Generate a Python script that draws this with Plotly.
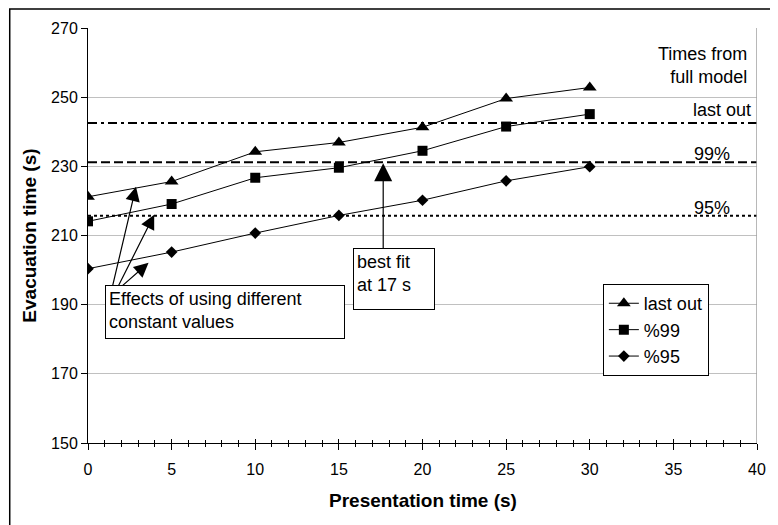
import plotly.graph_objects as go

# ---- data ----
presentation_time = [0, 5, 10, 15, 20, 25, 30]
last_out = [221.2, 225.6, 234.2, 236.9, 241.3, 249.6, 252.8]
pct99 = [214.1, 219.1, 226.7, 229.6, 234.5, 241.5, 245.1]
pct95 = [200.4, 205.2, 210.7, 215.8, 220.2, 225.8, 229.9]

series_names = ["last out", "%99", "%95"]
series_symbols = ["triangle-up", "square", "diamond"]
series_sizes = [12, 10, 9]

full_model_names = ["last out", "99%", "95%"]
full_model_values = [242.5, 231.2, 215.7]
full_model_dash = ["9px,4px,3px,4px", "9px,4px", "3px,3px"]

x_range = [0, 40]
y_range = [150, 270]
x_ticks = [0, 5, 10, 15, 20, 25, 30, 35, 40]
y_ticks = [150, 170, 190, 210, 230, 250, 270]

FONT = "Liberation Sans, Arial, sans-serif"

fig = go.Figure()

# reference lines from the full model
for name, val, dash in zip(full_model_names, full_model_values, full_model_dash):
    fig.add_trace(go.Scatter(
        x=x_range, y=[val, val], mode="lines",
        line=dict(color="black", width=2, dash=dash),
        showlegend=False, hoverinfo="skip"))

for name, ys, sym, sz in zip(series_names, [last_out, pct99, pct95], series_symbols, series_sizes):
    fig.add_trace(go.Scatter(
        x=presentation_time, y=ys, mode="lines+markers", name=name,
        line=dict(color="black", width=1),
        marker=dict(symbol=sym, size=sz, color="black")))

# helper trace for overlay axis (cross ticks)
fig.add_trace(go.Scatter(x=[x_range[0]], y=[y_range[0]], xaxis="x2", mode="markers",
                         marker=dict(opacity=0), showlegend=False, hoverinfo="skip"))

# plot-area right border (grey)
fig.add_shape(type="line", xref="x", yref="y", x0=x_range[1], x1=x_range[1],
              y0=y_range[0], y1=y_range[1], line=dict(color="#a0a0a0", width=1.5))
# outer chart border
fig.add_shape(type="rect", xref="paper", yref="paper", x0=-0.1170, x1=1.06,
              y0=-0.3, y1=1.0458, line=dict(color="black", width=1.5))

annotations = []
# labels for full-model lines
annotations.append(dict(x=1.0, y=1.0, xref="paper", yref="paper", xanchor="right", yanchor="top",
                        text="Times from<br>full model", showarrow=False, align="right",
                        xshift=-8, yshift=-14, font=dict(size=18, color="black", family=FONT)))
annotations.append(dict(x=40, y=full_model_values[0], xref="x", yref="y", xanchor="right", yanchor="bottom",
                        text="last out", showarrow=False, xshift=-4, yshift=1,
                        font=dict(size=18, color="black", family=FONT)))
annotations.append(dict(x=38.5, y=full_model_values[1], xref="x", yref="y", xanchor="right", yanchor="middle",
                        text="99%", showarrow=False, yshift=8,
                        font=dict(size=18, color="black", family=FONT)))
annotations.append(dict(x=38.5, y=full_model_values[2], xref="x", yref="y", xanchor="right", yanchor="middle",
                        text="95%", showarrow=False, yshift=8,
                        font=dict(size=18, color="black", family=FONT)))

# arrows from the "Effects" box
arrow_tips = [(2.87, 224.1), (3.96, 216.0), (3.62, 202.1)]
arrow_tails = [(1.46, 195.2), (1.79, 195.2), (1.99, 195.2)]
for (tx, ty), (sx, sy) in zip(arrow_tips, arrow_tails):
    annotations.append(dict(x=tx, y=ty, ax=sx, ay=sy, xref="x", yref="y", axref="x", ayref="y",
                            text="", showarrow=True, arrowhead=2, arrowsize=2.4, arrowwidth=1.2,
                            arrowcolor="black"))
# best fit arrow
annotations.append(dict(x=17.65, y=230.9, ax=17.65, ay=203.3, xref="x", yref="y", axref="x", ayref="y",
                        text="", showarrow=True, arrowhead=2, arrowsize=3.0, arrowwidth=1.2,
                        arrowcolor="black"))

# text boxes
annotations.append(dict(x=1.0, y=195.6, xref="x", yref="y", xanchor="left", yanchor="top",
                        text="Effects of using different<br>constant values", showarrow=False,
                        align="left", valign="top", width=232, height=46,
                        bordercolor="black", borderwidth=1, borderpad=3, bgcolor="white",
                        font=dict(size=18, color="black", family=FONT)))
annotations.append(dict(x=15.84, y=206.5, xref="x", yref="y", xanchor="left", yanchor="top",
                        text="best fit<br>at 17 s", showarrow=False,
                        align="left", valign="top", width=74, height=54,
                        bordercolor="black", borderwidth=1, borderpad=3, bgcolor="white",
                        font=dict(size=18, color="black", family=FONT)))

# axis titles
annotations.append(dict(x=-0.088, y=0.5, xref="paper", yref="paper", text="<b>Evacuation time (s)</b>",
                        textangle=-90, showarrow=False, xanchor="center", yanchor="middle",
                        font=dict(size=19, color="black", family=FONT)))
annotations.append(dict(x=0.5, y=-0.138, xref="paper", yref="paper", text="<b>Presentation time (s)</b>",
                        showarrow=False, xanchor="center", yanchor="middle",
                        font=dict(size=19, color="black", family=FONT)))

fig.update_layout(
    width=770, height=517,
    margin=dict(l=80, r=13, t=20, b=82),
    paper_bgcolor="white", plot_bgcolor="white",
    font=dict(family=FONT, size=16, color="black"),
    showlegend=True,
    legend=dict(x=0.7696, y=0.383, xanchor="left", yanchor="top",
                bordercolor="black", borderwidth=1, bgcolor="white",
                font=dict(size=18, color="black", family=FONT),
                tracegroupgap=0, itemwidth=30),
    annotations=annotations,
    xaxis=dict(range=x_range, tickvals=x_ticks, ticks="outside", ticklen=6, tickwidth=1,
               tickcolor="black", showline=True, linecolor="black", linewidth=1,
               showgrid=False, zeroline=False, tickfont=dict(size=16),
               ticklabeloverflow="allow", ticklabelstandoff=6,
               minor=dict(dtick=1, ticks="outside", ticklen=3, tickcolor="black", showgrid=False)),
    xaxis2=dict(range=x_range, overlaying="x", side="bottom", anchor="y", tickvals=x_ticks,
                ticks="inside", ticklen=4, tickcolor="black", showticklabels=False,
                showgrid=False, zeroline=False, showline=False,
                minor=dict(dtick=1, ticks="inside", ticklen=3, tickcolor="black", showgrid=False)),
    yaxis=dict(range=y_range, tickvals=y_ticks, ticks="outside", ticklen=6, tickwidth=1,
               tickcolor="black", showline=True, linecolor="black", linewidth=1,
               showgrid=True, gridcolor="#c0c0c0", gridwidth=1, zeroline=False,
               tickfont=dict(size=16)),
)

fig.write_html("out.html")
